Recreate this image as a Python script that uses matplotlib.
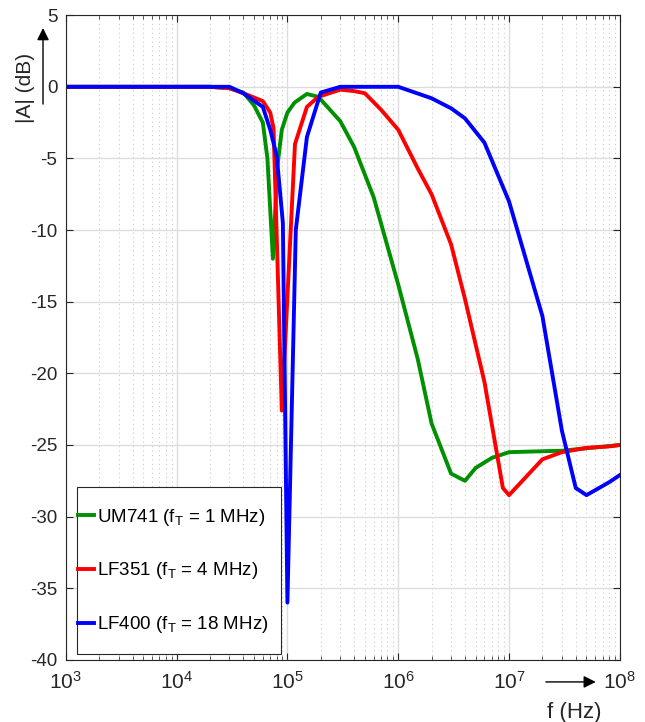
import matplotlib
matplotlib.use("Agg")
import matplotlib.pyplot as plt
from matplotlib.patches import Rectangle, FancyArrowPatch
from matplotlib.ticker import LogLocator

plt.rcParams['font.family'] = ['Liberation Sans', 'DejaVu Sans']
plt.rcParams['mathtext.default'] = 'regular'
plt.rcParams['axes.unicode_minus'] = False

# UM741 (green)
f_741 = [1e3, 1e4, 2e4, 3e4, 4e4, 5e4, 6e4, 6.6e4, 7.4e4, 8.1e4, 8.9e4, 1e5, 1.16e5,
         1.5e5, 1.9e5, 3e5, 4e5, 6e5, 1e6, 1.5e6, 2e6, 3e6, 4e6, 5e6, 7e6, 1e7, 3e7, 1e8]
a_741 = [0, 0, 0, -0.1, -0.4, -1.3, -2.5, -5, -12, -5.6, -3.0, -1.8, -1.1,
         -0.5, -0.7, -2.4, -4.2, -7.7, -13.8, -19, -23.5, -27, -27.5, -26.6, -25.9, -25.5, -25.4, -25.0]

# LF351 (red)
f_351 = [1e3, 2e4, 3e4, 4e4, 6e4, 7e4, 7.5e4, 8.9e4, 1.17e5, 1.5e5, 1.9e5, 3e5, 4e5, 5e5,
         7e5, 1e6, 1.5e6, 2e6, 3e6, 4e6, 5e6, 6e6, 8.8e6, 1e7, 2e7, 3e7, 5e7, 8e7, 1e8]
a_351 = [0, 0, -0.1, -0.45, -1.0, -1.8, -2.9, -22.6, -4.0, -1.4, -0.7, -0.2, -0.3, -0.45,
         -1.6, -3.0, -5.7, -7.5, -11, -14.8, -18, -20.6, -28, -28.5, -26, -25.5, -25.2, -25.1, -25.0]

# LF400 (blue)
f_400 = [1e3, 3e4, 4e4, 6e4, 7e4, 8e4, 9.1e4, 1e5, 1.19e5, 1.5e5, 2e5, 3e5, 1e6, 2e6,
         3e6, 4e6, 6e6, 1e7, 2e7, 3e7, 4e7, 5e7, 6.5e7, 8e7, 1e8]
a_400 = [0, 0, -0.45, -1.4, -3.0, -4.8, -9.5, -36, -10, -3.5, -0.4, 0, 0, -0.8,
         -1.5, -2.2, -3.9, -8, -16, -24, -28, -28.5, -28, -27.6, -27.1]

labels = ['UM741 (f$_T$ = 1 MHz)', 'LF351 (f$_T$ = 4 MHz)', 'LF400 (f$_T$ = 18 MHz)']
colors = ['#009000', '#ff0000', '#0000ff']

fig = plt.figure(figsize=(6.45, 7.22), dpi=100)
ax = fig.add_axes([0.102, 0.086, 0.859, 0.893])

ax.plot(f_741, a_741, color=colors[0], lw=2.8, label=labels[0])
ax.plot(f_351, a_351, color=colors[1], lw=2.8, label=labels[1])
ax.plot(f_400, a_400, color=colors[2], lw=2.8, label=labels[2])

ax.set_xscale('log')
ax.set_xlim(1e3, 1e8)
ax.set_ylim(-40, 5)
ax.set_yticks(range(-40, 6, 5))
ax.xaxis.set_minor_locator(LogLocator(base=10, subs=range(2, 10)))

ax.grid(True, which='major', color='#dddddd', lw=1, ls='-')
ax.grid(True, which='minor', axis='x', color='#c8c8c8', lw=0.8, ls=(0, (1, 3)))
ax.set_axisbelow(True)

ax.tick_params(which='both', direction='in', top=True, right=True, color='#333333')
ax.tick_params(which='major', length=5)
ax.tick_params(which='minor', length=3)
ax.tick_params(axis='x', labelsize=15, pad=8, colors='#262626')
ax.tick_params(axis='y', labelsize=13.5, pad=6, colors='#262626')
for s in ax.spines.values():
    s.set_color('#262626')
    s.set_linewidth(0.8)

# legend box drawn separately so the tall, narrow frame matches
ax.add_patch(Rectangle((0.0199, 0.0093), 0.368, 0.259, transform=ax.transAxes,
                       facecolor='white', edgecolor='#262626', lw=0.8, zorder=4))
leg = ax.legend(loc='center left', bbox_to_anchor=(0.0217, 0.138), fontsize=13.5,
                handlelength=0.85, handletextpad=0.18, labelspacing=1.75,
                borderpad=0, borderaxespad=0, frameon=False)
leg.set_zorder(5)

# axis labels with arrows
fig.text(0.039, 0.878, '|A| (dB)', rotation=90, fontsize=15, color='#262626',
         ha='center', va='center')
fig.text(0.891, 0.013, 'f (Hz)', fontsize=16, color='#262626', ha='center', va='center')
fig.add_artist(FancyArrowPatch(
    (0.0667, 0.852), (0.0667, 0.965), transform=fig.transFigure,
    arrowstyle='-|>', mutation_scale=18, color='black', lw=1))
fig.add_artist(FancyArrowPatch(
    (0.842, 0.0555), (0.928, 0.0555), transform=fig.transFigure,
    arrowstyle='-|>', mutation_scale=18, color='black', lw=1))

fig.savefig('out.png', dpi=100)
